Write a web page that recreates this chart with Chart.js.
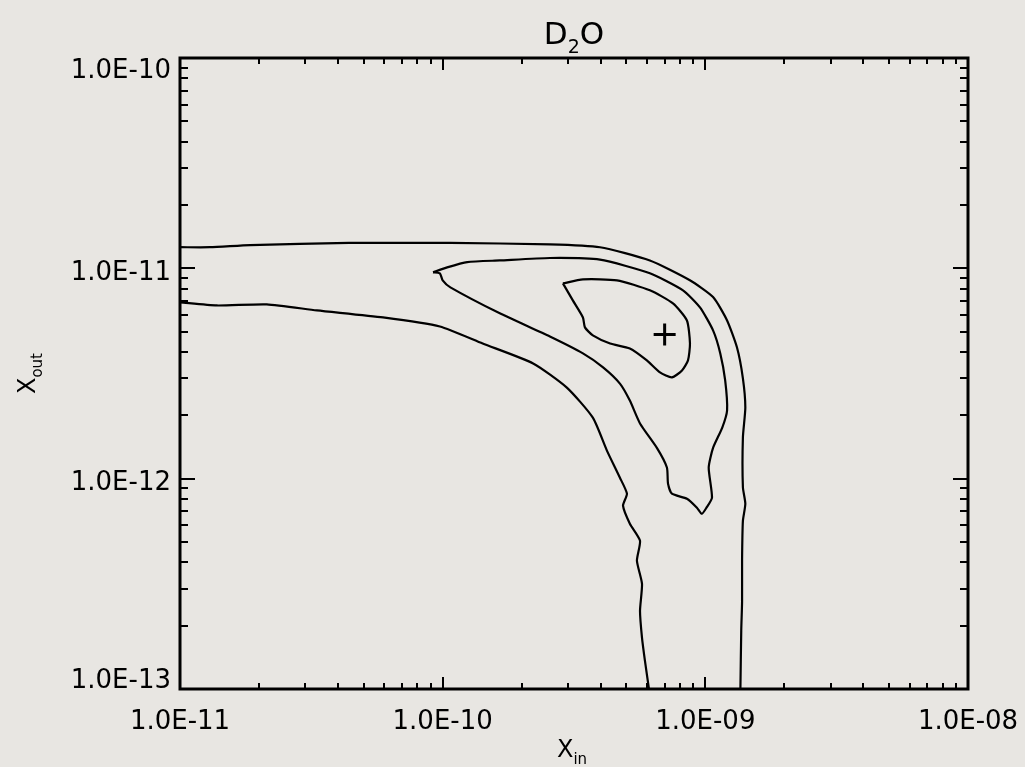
<!DOCTYPE html>
<html>
<head>
<meta charset="utf-8">
<script src="https://cdn.jsdelivr.net/npm/chart.js@4.4.1/dist/chart.umd.min.js"></script>
<style>
  html, body { margin: 0; padding: 0; background: #e8e6e2; }
  #wrap { width: 1025px; height: 767px; }
</style>
</head>
<body>
<div id="wrap"><canvas id="contourChart" width="1025" height="767"></canvas></div>
<script>
// Confidence contours of the D2O abundance, inner vs outer, on log-log axes.
const xDecades = [-11, -10, -9, -8];
const yDecades = [-13, -12, -11, -10];
const minorSteps = [2, 3, 4, 5, 6, 7, 8, 9];

// outermost contour is open: an upper/right branch and a lower/left branch
const outerUpper = [
  [1.0e-11, 1.26e-11], [1.3e-11, 1.26e-11], [1.85e-11, 1.29e-11], [4.4e-11, 1.32e-11],
  [1.07e-10, 1.32e-11], [2.56e-10, 1.30e-11], [3.97e-10, 1.26e-11], [6.15e-10, 1.09e-11],
  [8.7e-10, 8.8e-12], [1.07e-9, 7.3e-12], [1.21e-9, 5.65e-12], [1.32e-9, 4.2e-12],
  [1.39e-9, 3.0e-12], [1.42e-9, 2.18e-12], [1.39e-9, 1.57e-12], [1.39e-9, 9.1e-13],
  [1.42e-9, 7.6e-13], [1.39e-9, 6.3e-13], [1.38e-9, 4.1e-13], [1.38e-9, 2.6e-13],
  [1.37e-9, 1.9e-13], [1.36e-9, 1.0e-13]
];
const outerLower = [
  [1.0e-11, 6.89e-12], [1.38e-11, 6.66e-12], [2.14e-11, 6.74e-12], [3.32e-11, 6.31e-12],
  [5.93e-11, 5.84e-12], [9.76e-11, 5.29e-12], [1.42e-10, 4.39e-12], [2.21e-10, 3.53e-12],
  [2.97e-10, 2.71e-12], [3.73e-10, 1.95e-12], [4.22e-10, 1.36e-12], [4.73e-10, 1.01e-12],
  [5.03e-10, 8.48e-13], [4.86e-10, 7.44e-13], [5.16e-10, 6.11e-13], [5.64e-10, 5.07e-13],
  [5.49e-10, 4.07e-13], [5.74e-10, 3.16e-13], [5.64e-10, 2.35e-13], [5.74e-10, 1.75e-13],
  [5.89e-10, 1.36e-13], [6.10e-10, 1.0e-13]
];
const middleLoop = [
  [9.19e-11, 9.57e-12], [1.04e-10, 1.01e-11], [1.24e-10, 1.07e-11], [1.65e-10, 1.09e-11],
  [2.56e-10, 1.12e-11], [3.97e-10, 1.10e-11], [6.15e-10, 9.47e-12], [8.22e-10, 7.86e-12],
  [9.54e-10, 6.52e-12], [1.07e-9, 5.07e-12], [1.14e-9, 3.94e-12], [1.19e-9, 2.93e-12],
  [1.21e-9, 2.11e-12], [1.16e-9, 1.75e-12], [1.07e-9, 1.40e-12], [1.03e-9, 1.13e-12],
  [1.06e-9, 8.12e-13], [1.01e-9, 7.28e-13], [9.7e-10, 6.81e-13], [9.29e-10, 7.28e-13],
  [8.51e-10, 8.03e-13], [7.46e-10, 8.48e-13], [7.21e-10, 9.47e-13], [7.14e-10, 1.13e-12],
  [6.54e-10, 1.40e-12], [5.64e-10, 1.83e-12], [5.16e-10, 2.35e-12], [4.73e-10, 2.83e-12],
  [4.08e-10, 3.38e-12], [3.42e-10, 3.94e-12], [2.56e-10, 4.74e-12], [1.65e-10, 6.11e-12],
  [1.07e-10, 8.12e-12], [1.0e-10, 8.77e-12], [9.76e-11, 9.47e-12], [9.19e-11, 9.57e-12]
];
const innerLoop = [
  [2.87e-10, 8.48e-12], [3.42e-10, 8.86e-12], [4.61e-10, 8.77e-12], [6.15e-10, 7.86e-12],
  [7.53e-10, 6.81e-12], [8.51e-10, 5.65e-12], [8.74e-10, 4.39e-12], [8.59e-10, 3.65e-12],
  [8.15e-10, 3.27e-12], [7.46e-10, 3.03e-12], [6.72e-10, 3.20e-12], [5.99e-10, 3.65e-12],
  [5.16e-10, 4.16e-12], [4.34e-10, 4.39e-12], [3.73e-10, 4.80e-12], [3.48e-10, 5.24e-12],
  [3.42e-10, 5.84e-12], [3.13e-10, 7.04e-12], [2.87e-10, 8.48e-12]
];
const bestFit = [7.0e-10, 4.85e-12];

const FONT = "'DejaVu Sans', Arial, sans-serif";
const INK = "#000";
const TICK_SIZE = 26;

function logTicks(decades) {
  const ticks = [];
  decades.forEach((e, i) => {
    ticks.push({ value: Math.pow(10, e), major: true });
    if (i < decades.length - 1) minorSteps.forEach((m) => ticks.push({ value: m * Math.pow(10, e), major: false }));
  });
  return ticks;
}

function sciLabel(value) {
  const e = Math.log10(value);
  if (Math.abs(e - Math.round(e)) > 1e-6) return "";
  const n = Math.round(e);
  return "1.0E" + (n < 0 ? "-" : "+") + String(Math.abs(n)).padStart(2, "0");
}

function contourSet(points) {
  return {
    data: points.map(([x, y]) => ({ x, y })),
    showLine: true,
    borderColor: INK,
    borderWidth: 2.2,
    pointRadius: 0,
    tension: 0.2
  };
}

// draws text made of normal and subscript pieces, centred on (cx, baseline)
function drawSubText(ctx, parts, cx, baseline, size) {
  const subSize = Math.round(size * 0.62);
  const widths = parts.map(([t, sub]) => {
    ctx.font = (sub ? subSize : size) + "px " + FONT;
    return ctx.measureText(t).width;
  });
  let x = cx - widths.reduce((a, b) => a + b, 0) / 2;
  ctx.textAlign = "left";
  ctx.textBaseline = "alphabetic";
  parts.forEach(([t, sub], i) => {
    ctx.font = (sub ? subSize : size) + "px " + FONT;
    ctx.fillText(t, x, baseline + (sub ? size * 0.28 : 0));
    x += widths[i];
  });
}

const framePlugin = {
  id: "framePlugin",
  afterDraw(chart) {
    const { ctx, chartArea: a, scales: { x, y } } = chart;
    ctx.save();
    ctx.strokeStyle = INK;
    ctx.fillStyle = INK;

    // inward tick marks on all four sides
    ctx.lineWidth = 2;
    ctx.beginPath();
    x.ticks.forEach((t) => {
      const px = Math.round(x.getPixelForValue(t.value));
      const len = t.major ? 12 : 6;
      ctx.moveTo(px, a.bottom); ctx.lineTo(px, a.bottom - len);
      ctx.moveTo(px, a.top); ctx.lineTo(px, a.top + len);
    });
    y.ticks.forEach((t) => {
      const py = Math.round(y.getPixelForValue(t.value));
      const len = t.major ? 15 : 8;
      ctx.moveTo(a.left, py); ctx.lineTo(a.left + len, py);
      ctx.moveTo(a.right, py); ctx.lineTo(a.right - len, py);
    });
    ctx.stroke();
    ctx.lineWidth = 3;
    ctx.strokeRect(a.left, a.top, a.right - a.left, a.bottom - a.top);

    // decade labels; y labels stay inside the vertical extent of the frame
    const half = TICK_SIZE * 0.73 / 2;
    ctx.font = TICK_SIZE + "px " + FONT;
    ctx.textBaseline = "alphabetic";
    ctx.textAlign = "center";
    x.ticks.forEach((t) => {
      const label = sciLabel(t.value);
      if (label) ctx.fillText(label, x.getPixelForValue(t.value), a.bottom + 40);
    });
    ctx.textAlign = "right";
    y.ticks.forEach((t) => {
      const label = sciLabel(t.value);
      if (!label) return;
      let mid = y.getPixelForValue(t.value) + 2;
      mid = Math.min(Math.max(mid, a.top + half + 1), a.bottom - half - 1);
      ctx.fillText(label, a.left - 9, mid + half);
    });

    const cx = (a.left + a.right) / 2;
    drawSubText(ctx, [["D", false], ["2", true], ["O", false]], cx, 44, 31);
    drawSubText(ctx, [["X", false], ["in", true]], cx - 2, 757, 24);

    ctx.save();
    ctx.translate(35, (a.top + a.bottom) / 2);
    ctx.rotate(-Math.PI / 2);
    drawSubText(ctx, [["X", false], ["out", true]], 0, 0, 24);
    ctx.restore();
    ctx.restore();
  }
};

const hiddenAxis = { display: false, drawTicks: false };

new Chart(document.getElementById("contourChart"), {
  type: "scatter",
  data: {
    datasets: [
      contourSet(outerUpper),
      contourSet(outerLower),
      contourSet(middleLoop),
      contourSet(innerLoop),
      {
        data: [{ x: bestFit[0], y: bestFit[1] }],
        showLine: false,
        pointStyle: "cross",
        pointRadius: 11,
        pointBorderWidth: 3,
        pointBorderColor: INK,
        borderColor: INK
      }
    ]
  },
  options: {
    responsive: false,
    animation: false,
    layout: { padding: { left: 0, right: 57, top: 58, bottom: 0 } },
    plugins: { legend: { display: false }, tooltip: { enabled: false } },
    scales: {
      x: {
        type: "logarithmic",
        min: 1e-11,
        max: 1e-8,
        afterBuildTicks: (scale) => { scale.ticks = logTicks(xDecades); },
        afterFit: (scale) => { scale.height = 78; scale.paddingLeft = 0; scale.paddingRight = 0; },
        grid: hiddenAxis,
        border: { display: false },
        ticks: { display: false }
      },
      y: {
        type: "logarithmic",
        min: 1e-13,
        max: 1e-10,
        afterBuildTicks: (scale) => { scale.ticks = logTicks(yDecades); },
        afterFit: (scale) => { scale.width = 180; scale.paddingTop = 0; scale.paddingBottom = 0; },
        grid: hiddenAxis,
        border: { display: false },
        ticks: { display: false }
      }
    }
  },
  plugins: [framePlugin]
});
</script>
</body>
</html>
